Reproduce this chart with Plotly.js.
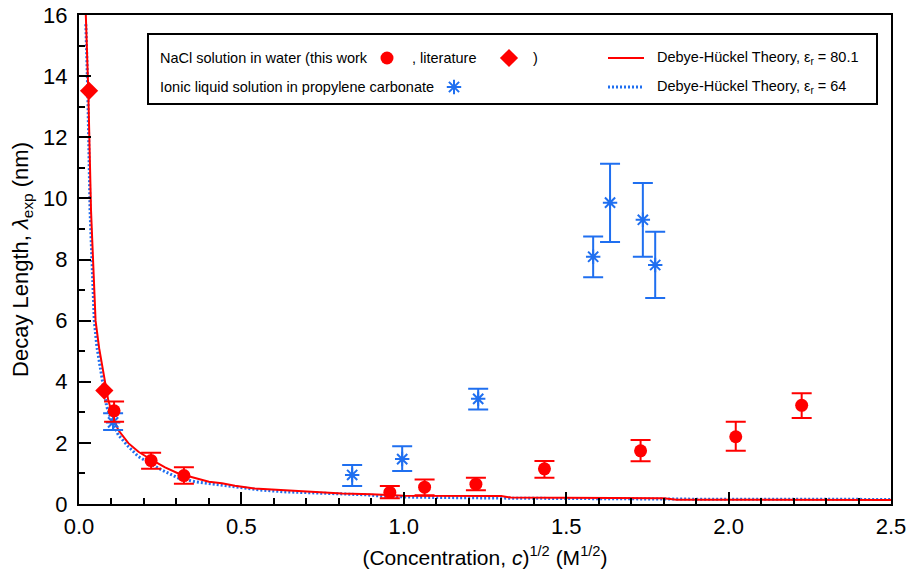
<!DOCTYPE html>
<html>
<head>
<meta charset="utf-8">
<script src="https://cdn.plot.ly/plotly-3.0.1.min.js"></script>
<style>html,body{margin:0;padding:0;background:#fff}#chart{width:907px;height:578px}</style>
</head>
<body>
<div id="chart"></div>
<script>
// NaCl solution in water (this work)
const naclX  = [0.108, 0.222, 0.323, 0.957, 1.064, 1.222, 1.433, 1.729, 2.022, 2.225];
const naclY  = [3.05, 1.42, 0.93, 0.38, 0.55, 0.65, 1.15, 1.74, 2.20, 3.23];
const naclHi = [3.35, 1.68, 1.20, 0.59, 0.80, 0.86, 1.41, 2.09, 2.69, 3.62];
const naclLo = [2.69, 1.15, 0.66, 0.19, 0.29, 0.45, 0.86, 1.40, 1.74, 2.81];
// NaCl literature
const litX = [0.031, 0.078];
const litY = [13.52, 3.71];
// Ionic liquid in propylene carbonate
const ilX  = [0.105, 0.841, 0.995, 1.229, 1.583, 1.635, 1.736, 1.774];
const ilY  = [2.67, 0.95, 1.47, 3.44, 8.09, 9.86, 9.30, 7.82];
const ilHi = [2.97, 1.28, 1.89, 3.77, 8.75, 11.13, 10.50, 8.91];
const ilLo = [2.42, 0.59, 1.08, 3.09, 7.42, 8.57, 8.09, 6.74];
// Debye-Hückel theory curves
const dh80X = [0.021, 0.0286, 0.037, 0.044, 0.051, 0.062, 0.078, 0.090, 0.105, 0.121, 0.152, 0.183, 0.224, 0.265, 0.306, 0.357, 0.40, 0.44, 0.48, 0.54, 0.61, 0.70, 0.76, 0.81, 0.90, 1.00, 1.30, 1.33, 1.80, 1.84, 2.50];
const dh80Y = [16.0, 13.5, 9.6, 8.0, 6.0, 5.1, 4.1, 3.4, 2.85, 2.42, 1.99, 1.71, 1.44, 1.20, 1.00, 0.84, 0.73, 0.68, 0.60, 0.51, 0.46, 0.40, 0.37, 0.34, 0.32, 0.27, 0.26, 0.21, 0.19, 0.14, 0.13];
const dh64X = [0.021, 0.027, 0.034, 0.039, 0.047, 0.055, 0.068, 0.085, 0.100, 0.121, 0.152, 0.183, 0.255, 0.306, 0.357, 0.408, 0.434, 0.505, 0.557, 0.630, 0.710, 0.780, 0.885, 0.940, 1.040, 1.330, 1.620, 1.850, 2.500];
const dh64Y = [15.7, 13.5, 9.6, 8.0, 6.0, 5.15, 4.28, 3.2, 2.75, 2.26, 1.88, 1.55, 1.11, 0.85, 0.73, 0.65, 0.62, 0.53, 0.46, 0.40, 0.37, 0.33, 0.30, 0.25, 0.22, 0.19, 0.17, 0.16, 0.15];

const RED = '#ff0000';
const BLUE = '#1f6ff0';
const FONT = 'Liberation Sans, Arial, sans-serif';

const up = (hi, y) => hi.map((h, i) => h - y[i]);
const dn = (lo, y) => lo.map((l, i) => y[i] - l);

// plot area in pixels
const L = 79, R = 891, T = 15, B = 504;
const px = p => (p - L) / (R - L);
const py = p => (B - p) / (B - T);

const traces = [
  {x: dh64X, y: dh64Y, mode: 'lines', line: {color: BLUE, width: 3, dash: '2px,2px'}, hoverinfo: 'skip'},
  {x: dh80X, y: dh80Y, mode: 'lines', line: {color: RED, width: 2}, hoverinfo: 'skip'},
  {x: ilX, y: ilY, mode: 'markers',
   marker: {symbol: 'asterisk-open', size: 12, color: BLUE, line: {color: BLUE, width: 2}},
   error_y: {type: 'data', array: up(ilHi, ilY), arrayminus: dn(ilLo, ilY), color: BLUE, thickness: 2, width: 10}},
  {x: naclX, y: naclY, mode: 'markers',
   marker: {symbol: 'circle', size: 13, color: RED},
   error_y: {type: 'data', array: up(naclHi, naclY), arrayminus: dn(naclLo, naclY), color: RED, thickness: 2, width: 10}},
  {x: litX, y: litY, mode: 'markers', marker: {symbol: 'diamond', size: 14, color: RED}},
  // legend samples (overlay axes in plot-fraction units)
  {x: [px(387)], y: [py(58)], xaxis: 'x2', yaxis: 'y2', mode: 'markers', marker: {symbol: 'circle', size: 13, color: RED}},
  {x: [px(509)], y: [py(58)], xaxis: 'x2', yaxis: 'y2', mode: 'markers', marker: {symbol: 'diamond', size: 14, color: RED}},
  {x: [px(454)], y: [py(87)], xaxis: 'x2', yaxis: 'y2', mode: 'markers', marker: {symbol: 'asterisk-open', size: 12, color: BLUE, line: {color: BLUE, width: 2}}},
  {x: [px(608), px(644)], y: [py(58), py(58)], xaxis: 'x2', yaxis: 'y2', mode: 'lines', line: {color: RED, width: 2}},
  {x: [px(608), px(644)], y: [py(87), py(87)], xaxis: 'x2', yaxis: 'y2', mode: 'lines', line: {color: BLUE, width: 3, dash: '2px,2px'}}
];

const lf = {family: FONT, size: 14.5, color: '#000'};
const ann = (x, y, text) => ({xref: 'paper', yref: 'paper', x: px(x), y: py(y), text: text, showarrow: false, xanchor: 'left', yanchor: 'middle', font: lf});

const layout = {
  width: 907, height: 578,
  margin: {l: L, r: 907 - R, t: T, b: 578 - B},
  paper_bgcolor: '#fff', plot_bgcolor: '#fff',
  showlegend: false,
  font: {family: FONT, size: 20, color: '#000'},
  xaxis: {
    range: [0, 2.5], dtick: 0.5, tick0: 0, tickformat: '.1f',
    ticks: 'inside', ticklen: 12, tickwidth: 2, tickcolor: '#000',
    minor: {dtick: 0.1, ticks: 'inside', ticklen: 6, tickwidth: 2, tickcolor: '#000'},
    showline: true, linewidth: 2, linecolor: '#000', mirror: true,
    showgrid: false, zeroline: false,
    tickfont: {size: 22}, ticklabelstandoff: 2,
    title: {text: '(Concentration, <i>c</i>)<sup>1/2</sup> (M<sup>1/2</sup>)', font: {size: 21}, standoff: 12}
  },
  yaxis: {
    range: [0, 16], dtick: 2, tick0: 0,
    ticks: 'inside', ticklen: 12, tickwidth: 2, tickcolor: '#000',
    minor: {dtick: 1, ticks: 'inside', ticklen: 6, tickwidth: 2, tickcolor: '#000'},
    showline: true, linewidth: 2, linecolor: '#000', mirror: true,
    showgrid: false, zeroline: false,
    tickfont: {size: 22}, ticklabelstandoff: 5,
    title: {text: 'Decay Length, <i>λ</i><sub>exp</sub> (nm)', font: {size: 22}, standoff: 8}
  },
  xaxis2: {overlaying: 'x', range: [0, 1], visible: false, fixedrange: true},
  yaxis2: {overlaying: 'y', range: [0, 1], visible: false, fixedrange: true},
  shapes: [
    {type: 'rect', xref: 'paper', yref: 'paper', x0: px(148), x1: px(877), y0: py(104), y1: py(34), line: {color: '#000', width: 2}, fillcolor: '#fff', layer: 'below'}
  ],
  annotations: [
    ann(158, 58, 'NaCl solution in water (this work'),
    ann(410, 58, ', literature'),
    ann(531, 58, ')'),
    ann(158, 87, 'Ionic liquid solution in propylene carbonate'),
    ann(655, 58, 'Debye-Hückel Theory, ε<sub>r</sub> = 80.1'),
    ann(655, 87, 'Debye-Hückel Theory, ε<sub>r</sub> = 64')
  ]
};

Plotly.newPlot('chart', traces, layout, {staticPlot: true, displayModeBar: false});
</script>
</body>
</html>
